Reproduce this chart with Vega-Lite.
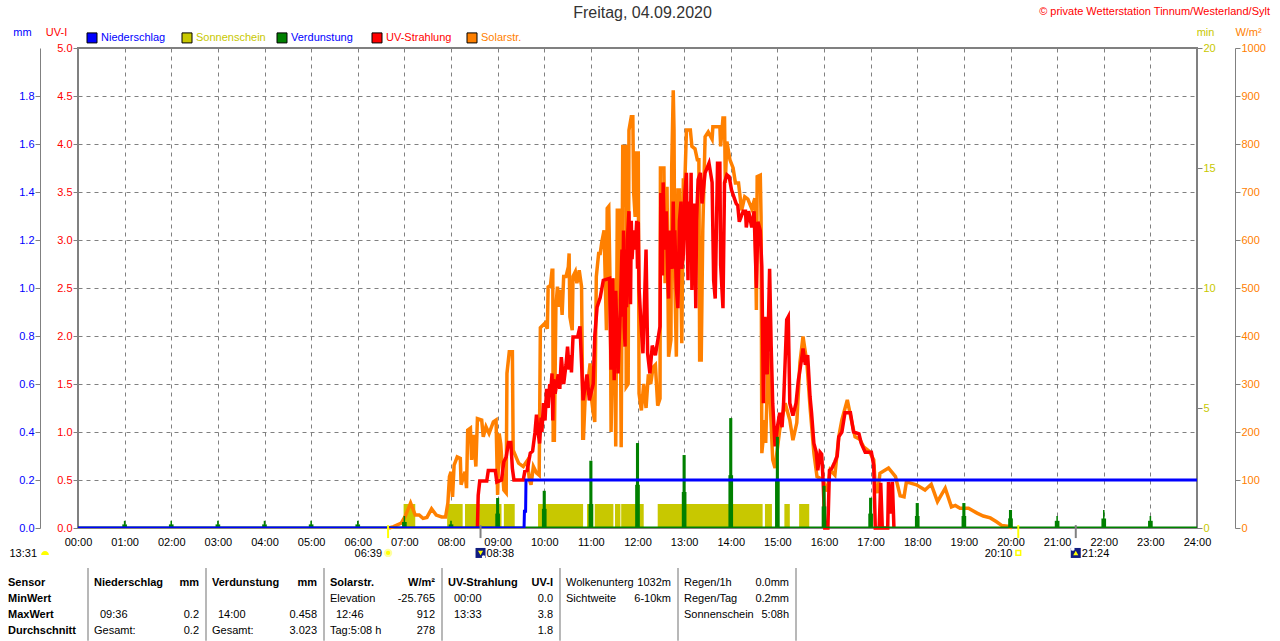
{
  "$schema": "https://vega.github.io/schema/vega-lite/v6.json",
  "width": 1119,
  "height": 480,
  "autosize": {"type": "none"},
  "padding": {"left": 78, "top": 48, "right": 83, "bottom": 113},
  "background": "white",
  "title": {"text": "Freitag, 04.09.2020", "anchor": "middle", "dx": 5, "dy": 15, "offset": 0, "font": "Liberation Sans", "fontSize": 16, "fontWeight": "normal", "color": "#333"},
  "config": {
    "font": "Liberation Sans",
    "view": {"stroke": "#808080", "strokeWidth": 2},
    "text": {"fontSize": 11},
    "axis": {"labelFontSize": 11, "titleFontSize": 11, "titleFontWeight": "normal", "domainColor": "#808080", "tickColor": "#808080", "gridColor": "#808080", "gridDash": [4, 4], "gridOpacity": 1, "titleAngle": 0, "titleAlign": "center", "titleBaseline": "middle", "titleY": -16, "labelFlush": false, "labelOverlap": false}
  },
  "datasets": {
    "sun": [
      {"t0":419,"t1":434},{"t0":475,"t1":495},{"t0":498,"t1":545},{"t0":548,"t1":562},{"t0":592,"t1":650},{"t0":655,"t1":663},{"t0":665,"t1":689},{"t0":691,"t1":698},{"t0":699,"t1":728},{"t0":746,"t1":881},{"t0":884,"t1":893},{"t0":909,"t1":916},{"t0":928,"t1":941}
    ],
    "evap": [
      {"t0":0,"t1":1440,"v":0.006},
      {"t0":59,"t1":61,"v":0.03},{"t0":57,"t1":63,"v":0.015},{"t0":119,"t1":121,"v":0.03},{"t0":117,"t1":123,"v":0.015},{"t0":179,"t1":181,"v":0.03},{"t0":177,"t1":183,"v":0.015},{"t0":239,"t1":241,"v":0.03},{"t0":237,"t1":243,"v":0.015},{"t0":299,"t1":301,"v":0.03},{"t0":297,"t1":303,"v":0.015},{"t0":359,"t1":361,"v":0.03},{"t0":357,"t1":363,"v":0.015},
      {"t0":419,"t1":421,"v":0.05},{"t0":417,"t1":423,"v":0.025},{"t0":479,"t1":481,"v":0.03},{"t0":477,"t1":483,"v":0.015},
      {"t0":538,"t1":542,"v":0.125},{"t0":537,"t1":543,"v":0.06},{"t0":598,"t1":602,"v":0.155},{"t0":597,"t1":603,"v":0.08},{"t0":658,"t1":662,"v":0.28},{"t0":657,"t1":663,"v":0.1},{"t0":718,"t1":722,"v":0.354},{"t0":717,"t1":723,"v":0.18},{"t0":778,"t1":782,"v":0.304},{"t0":777,"t1":783,"v":0.15},{"t0":838,"t1":842,"v":0.458},{"t0":837,"t1":843,"v":0.22},{"t0":898,"t1":902,"v":0.38},{"t0":897,"t1":903,"v":0.2},{"t0":958,"t1":962,"v":0.176},{"t0":957,"t1":963,"v":0.09},{"t0":1018,"t1":1022,"v":0.126},{"t0":1017,"t1":1023,"v":0.06},{"t0":1078,"t1":1082,"v":0.104},{"t0":1077,"t1":1083,"v":0.05},{"t0":1138,"t1":1142,"v":0.104},{"t0":1137,"t1":1143,"v":0.05},{"t0":1198,"t1":1202,"v":0.075},{"t0":1197,"t1":1203,"v":0.04},{"t0":1259,"t1":1261,"v":0.05},{"t0":1257,"t1":1263,"v":0.03},{"t0":1319,"t1":1321,"v":0.075},{"t0":1317,"t1":1323,"v":0.04},{"t0":1379,"t1":1381,"v":0.05},{"t0":1377,"t1":1383,"v":0.03}
    ],
    "rain": [{"t":0,"mm":0},{"t":574,"mm":0},{"t":574.5,"mm":0.07},{"t":576,"mm":0.07},{"t":576.5,"mm":0.2},{"t":1440,"mm":0.2}],
    "solar": [
      {"t":400,"w":0},{"t":406,"w":3},{"t":416,"w":10},{"t":421,"w":24},{"t":428,"w":52},{"t":434,"w":27},{"t":439,"w":27},{"t":444,"w":20},{"t":449,"w":22},{"t":455,"w":40},{"t":461,"w":27},{"t":468,"w":23},{"t":473,"w":23},{"t":476,"w":52},{"t":478,"w":107},{"t":480,"w":117},{"t":482,"w":65},{"t":484,"w":131},{"t":488,"w":148},{"t":492,"w":145},{"t":493,"w":90},{"t":498,"w":117},{"t":500,"w":83},{"t":501.5,"w":204},{"t":505,"w":208},{"t":506.5,"w":142},{"t":509,"w":194},{"t":512,"w":128},{"t":514,"w":228},{"t":519.5,"w":225},{"t":521.5,"w":190},{"t":525,"w":211},{"t":529,"w":197},{"t":534.5,"w":221},{"t":538,"w":225},{"t":540,"w":69},{"t":542,"w":197},{"t":544,"w":175},{"t":548,"w":79},{"t":551,"w":73},{"t":552,"w":322},{"t":555,"w":367},{"t":559,"w":367},{"t":560,"w":162},{"t":567,"w":135},{"t":573,"w":128},{"t":578,"w":140},{"t":581,"w":100},{"t":583,"w":90},{"t":586,"w":128},{"t":590,"w":115},{"t":593.5,"w":110},{"t":595,"w":417},{"t":601,"w":427},{"t":604,"w":415},{"t":605,"w":502},{"t":608,"w":505},{"t":610,"w":537},{"t":611,"w":537},{"t":611.5,"w":183},{"t":613,"w":183},{"t":615,"w":461},{"t":617,"w":503},{"t":619,"w":461},{"t":621,"w":496},{"t":623,"w":444},{"t":625,"w":524},{"t":628,"w":524},{"t":631,"w":544},{"t":632,"w":572},{"t":633,"w":440},{"t":636,"w":412},{"t":637,"w":524},{"t":640,"w":534},{"t":642,"w":510},{"t":645,"w":537},{"t":648,"w":503},{"t":649,"w":336},{"t":649.5,"w":187},{"t":650.5,"w":187},{"t":653,"w":287},{"t":656,"w":300},{"t":659,"w":343},{"t":661,"w":267},{"t":663,"w":240},{"t":665,"w":221},{"t":667,"w":524},{"t":670,"w":572},{"t":672,"w":572},{"t":674,"w":595},{"t":677,"w":620},{"t":680,"w":412},{"t":681,"w":666},{"t":683,"w":670},{"t":685,"w":480},{"t":686,"w":200},{"t":688,"w":380},{"t":690,"w":520},{"t":692,"w":170},{"t":694,"w":662},{"t":697,"w":662},{"t":699,"w":168},{"t":701,"w":795},{"t":705,"w":795},{"t":705.5,"w":294},{"t":708,"w":300},{"t":709,"w":829},{"t":712,"w":857},{"t":714,"w":857},{"t":715,"w":700},{"t":717,"w":648},{"t":718,"w":781},{"t":721,"w":781},{"t":722,"w":280},{"t":725,"w":245},{"t":728,"w":300},{"t":731,"w":250},{"t":734,"w":320},{"t":737,"w":300},{"t":740,"w":335},{"t":743,"w":340},{"t":746,"w":255},{"t":749,"w":270},{"t":749.5,"w":750},{"t":754,"w":750},{"t":755.5,"w":510},{"t":758,"w":711},{"t":760,"w":357},{"t":763,"w":392},{"t":764,"w":750},{"t":766,"w":912},{"t":767,"w":829},{"t":768,"w":517},{"t":770,"w":357},{"t":772,"w":704},{"t":774,"w":704},{"t":777,"w":385},{"t":779,"w":725},{"t":781,"w":725},{"t":783,"w":829},{"t":788,"w":829},{"t":790,"w":795},{"t":794,"w":790},{"t":797,"w":767},{"t":799,"w":767},{"t":800,"w":350},{"t":802,"w":350},{"t":804,"w":620},{"t":807,"w":815},{"t":811,"w":825},{"t":816,"w":810},{"t":817,"w":836},{"t":826,"w":836},{"t":827,"w":795},{"t":830,"w":854},{"t":832,"w":854},{"t":833,"w":719},{"t":835,"w":805},{"t":839,"w":767},{"t":843,"w":750},{"t":846,"w":719},{"t":850,"w":719},{"t":854,"w":662},{"t":858,"w":690},{"t":862,"w":685},{"t":867,"w":665},{"t":871,"w":687},{"t":873,"w":454},{"t":874,"w":732},{"t":878,"w":735},{"t":879,"w":648},{"t":880,"w":156},{"t":884,"w":225},{"t":885,"w":177},{"t":888,"w":364},{"t":894,"w":142},{"t":897,"w":125},{"t":903,"w":204},{"t":910,"w":260},{"t":916,"w":225},{"t":920,"w":183},{"t":925,"w":219},{"t":929,"w":344},{"t":933,"w":399},{"t":938,"w":344},{"t":942,"w":253},{"t":947,"w":156},{"t":951,"w":107},{"t":959,"w":100},{"t":964,"w":76},{"t":968,"w":121},{"t":974,"w":110},{"t":979,"w":190},{"t":983,"w":225},{"t":990,"w":267},{"t":996,"w":219},{"t":1000,"w":190},{"t":1006,"w":185},{"t":1011,"w":169},{"t":1018,"w":160},{"t":1024,"w":142},{"t":1026,"w":86},{"t":1029,"w":73},{"t":1032,"w":114},{"t":1043,"w":125},{"t":1052,"w":107},{"t":1058,"w":67},{"t":1063,"w":65},{"t":1066,"w":96},{"t":1079,"w":90},{"t":1090,"w":79},{"t":1098,"w":91},{"t":1106,"w":55},{"t":1116,"w":83},{"t":1124,"w":44},{"t":1129,"w":47},{"t":1135,"w":41},{"t":1146,"w":41},{"t":1157,"w":31},{"t":1165,"w":25},{"t":1174,"w":21},{"t":1182,"w":13},{"t":1189,"w":5},{"t":1198,"w":3},{"t":1202,"w":0}
    ],
    "uv": [
      {"t":514,"i":0},{"t":515,"i":0.34},{"t":517,"i":0.49},{"t":526,"i":0.49},{"t":528,"i":0.6},{"t":537,"i":0.6},{"t":539,"i":0.48},{"t":545,"i":0.5},{"t":548,"i":0.69},{"t":551,"i":0.74},{"t":554,"i":0.89},{"t":557,"i":0.89},{"t":559,"i":0.62},{"t":561,"i":0.5},{"t":573,"i":0.5},{"t":575,"i":0.59},{"t":578,"i":0.6},{"t":582,"i":0.78},{"t":585,"i":0.8},{"t":588,"i":0.99},{"t":590,"i":1.18},{"t":592,"i":1.0},{"t":594,"i":0.88},{"t":596,"i":1.15},{"t":597,"i":1.0},{"t":599,"i":1.3},{"t":601,"i":1.12},{"t":603,"i":1.45},{"t":605,"i":1.25},{"t":607,"i":1.5},{"t":608,"i":1.38},{"t":610,"i":1.61},{"t":611,"i":1.12},{"t":612,"i":1.55},{"t":614,"i":1.4},{"t":618,"i":1.6},{"t":620,"i":1.45},{"t":622,"i":1.78},{"t":625,"i":1.5},{"t":628,"i":1.7},{"t":630,"i":1.89},{"t":632,"i":1.65},{"t":634,"i":1.8},{"t":635,"i":1.62},{"t":637,"i":1.99},{"t":643,"i":1.99},{"t":646,"i":2.1},{"t":648,"i":1.72},{"t":650,"i":1.33},{"t":655,"i":1.6},{"t":658,"i":1.33},{"t":663,"i":1.5},{"t":665,"i":2.0},{"t":668,"i":2.3},{"t":672,"i":2.4},{"t":676,"i":2.58},{"t":684,"i":2.6},{"t":686,"i":1.65},{"t":688,"i":2.6},{"t":690,"i":1.54},{"t":692,"i":2.47},{"t":695,"i":1.61},{"t":698,"i":2.3},{"t":700,"i":2.9},{"t":701,"i":2.2},{"t":702,"i":3.1},{"t":703,"i":2.1},{"t":704,"i":1.89},{"t":705,"i":2.9},{"t":706,"i":2.3},{"t":707,"i":3.0},{"t":709,"i":3.3},{"t":710,"i":2.6},{"t":711,"i":2.33},{"t":712,"i":3.2},{"t":713,"i":2.8},{"t":715,"i":3.1},{"t":717,"i":2.9},{"t":719,"i":3.2},{"t":720,"i":2.7},{"t":721,"i":3.19},{"t":722,"i":2.5},{"t":724,"i":2.2},{"t":727,"i":1.82},{"t":731,"i":2.9},{"t":733,"i":1.82},{"t":736,"i":1.61},{"t":739,"i":1.9},{"t":743,"i":1.8},{"t":749,"i":2.1},{"t":750,"i":3.49},{"t":752,"i":2.63},{"t":753,"i":3.6},{"t":755,"i":2.9},{"t":757,"i":3.3},{"t":759,"i":2.6},{"t":760,"i":2.39},{"t":761,"i":3.1},{"t":763,"i":2.7},{"t":765,"i":2.9},{"t":766,"i":3.4},{"t":767,"i":2.7},{"t":768,"i":3.1},{"t":770,"i":2.5},{"t":772,"i":2.29},{"t":774,"i":3.2},{"t":776,"i":3.4},{"t":777,"i":2.7},{"t":779,"i":2.85},{"t":781,"i":3.5},{"t":783,"i":3.7},{"t":784,"i":3.0},{"t":785,"i":2.58},{"t":786,"i":3.4},{"t":788,"i":3.0},{"t":789,"i":3.7},{"t":790,"i":2.48},{"t":791,"i":3.3},{"t":793,"i":3.38},{"t":794,"i":2.9},{"t":795,"i":2.29},{"t":796,"i":3.2},{"t":798,"i":3.63},{"t":801,"i":3.7},{"t":803,"i":3.38},{"t":807,"i":3.7},{"t":812,"i":3.8},{"t":816,"i":3.6},{"t":818,"i":2.58},{"t":820,"i":2.39},{"t":823,"i":3.8},{"t":826,"i":3.8},{"t":827,"i":2.74},{"t":830,"i":2.29},{"t":832,"i":3.6},{"t":835,"i":3.68},{"t":838,"i":3.66},{"t":841,"i":3.52},{"t":847,"i":3.38},{"t":849,"i":3.36},{"t":851,"i":3.19},{"t":856,"i":3.3},{"t":859,"i":3.3},{"t":860,"i":3.13},{"t":863,"i":3.3},{"t":867,"i":3.13},{"t":870,"i":3.3},{"t":873,"i":2.5},{"t":875,"i":3.19},{"t":878,"i":3.1},{"t":880,"i":2.72},{"t":882,"i":1.3},{"t":884,"i":2.2},{"t":887,"i":1.6},{"t":890,"i":2.7},{"t":892,"i":1.9},{"t":894,"i":1.3},{"t":897,"i":0.85},{"t":900,"i":1.05},{"t":903,"i":1.2},{"t":906,"i":1.05},{"t":908,"i":1.3},{"t":912,"i":2.17},{"t":914,"i":2.2},{"t":916,"i":1.3},{"t":920,"i":1.17},{"t":924,"i":1.3},{"t":927,"i":1.54},{"t":931,"i":1.75},{"t":933,"i":1.87},{"t":936,"i":1.7},{"t":939,"i":1.8},{"t":942,"i":1.37},{"t":944,"i":1.2},{"t":947,"i":0.88},{"t":950,"i":0.79},{"t":952,"i":0.6},{"t":955,"i":0.79},{"t":957,"i":0.77},{"t":959,"i":0.47},{"t":961,"i":0},{"t":965,"i":0},{"t":967,"i":0.6},{"t":970,"i":0.62},{"t":974,"i":0.69},{"t":977,"i":0.75},{"t":979,"i":0.95},{"t":983,"i":1.0},{"t":987,"i":1.2},{"t":994,"i":1.2},{"t":998,"i":1.0},{"t":1005,"i":0.98},{"t":1008,"i":0.88},{"t":1013,"i":0.79},{"t":1021,"i":0.79},{"t":1024,"i":0.65},{"t":1026,"i":0},{"t":1031,"i":0},{"t":1033,"i":0.47},{"t":1035,"i":0},{"t":1042,"i":0},{"t":1043,"i":0.48},{"t":1045,"i":0.15},{"t":1048,"i":0.48},{"t":1050,"i":0}
    ],
    "marker": [
      {"t":399,"label":"06:39","kind":"sunrise"},
      {"t":518,"label":"08:38","kind":"moonset"},
      {"t":1210,"label":"20:10","kind":"sunset"},
      {"t":1284,"label":"21:24","kind":"moonrise"}
    ],
    "legend": [
      {"name":"Niederschlag"},{"name":"Sonnenschein"},{"name":"Verdunstung"},{"name":"UV-Strahlung"},{"name":"Solarstr."}
    ],
    "notes": [
      {"slot":"daylen","label":"13:31"},
      {"slot":"credit","label":"© private Wetterstation Tinnum/Westerland/Sylt"}
    ],
    "sep": [{"sec":1},{"sec":2},{"sec":3},{"sec":4},{"sec":5},{"sec":6},{"sec":7}],
    "table": [
      {"sec":0,"row":"head","side":"l","bold":true,"text":"Sensor"},
      {"sec":0,"row":"min","side":"l","bold":true,"text":"MinWert"},
      {"sec":0,"row":"max","side":"l","bold":true,"text":"MaxWert"},
      {"sec":0,"row":"avg","side":"l","bold":true,"text":"Durchschnitt"},
      {"sec":1,"row":"head","side":"l","bold":true,"text":"Niederschlag"},
      {"sec":1,"row":"head","side":"r","bold":true,"text":"mm"},
      {"sec":1,"row":"max","side":"time","bold":false,"text":"09:36"},
      {"sec":1,"row":"max","side":"r","bold":false,"text":"0.2"},
      {"sec":1,"row":"avg","side":"l","bold":false,"text":"Gesamt:"},
      {"sec":1,"row":"avg","side":"r","bold":false,"text":"0.2"},
      {"sec":2,"row":"head","side":"l","bold":true,"text":"Verdunstung"},
      {"sec":2,"row":"head","side":"r","bold":true,"text":"mm"},
      {"sec":2,"row":"max","side":"time","bold":false,"text":"14:00"},
      {"sec":2,"row":"max","side":"r","bold":false,"text":"0.458"},
      {"sec":2,"row":"avg","side":"l","bold":false,"text":"Gesamt:"},
      {"sec":2,"row":"avg","side":"r","bold":false,"text":"3.023"},
      {"sec":3,"row":"head","side":"l","bold":true,"text":"Solarstr."},
      {"sec":3,"row":"head","side":"r","bold":true,"text":"W/m²"},
      {"sec":3,"row":"min","side":"l","bold":false,"text":"Elevation"},
      {"sec":3,"row":"min","side":"r","bold":false,"text":"-25.765"},
      {"sec":3,"row":"max","side":"time","bold":false,"text":"12:46"},
      {"sec":3,"row":"max","side":"r","bold":false,"text":"912"},
      {"sec":3,"row":"avg","side":"l","bold":false,"text":"Tag:5:08 h"},
      {"sec":3,"row":"avg","side":"r","bold":false,"text":"278"},
      {"sec":4,"row":"head","side":"l","bold":true,"text":"UV-Strahlung"},
      {"sec":4,"row":"head","side":"r","bold":true,"text":"UV-I"},
      {"sec":4,"row":"min","side":"time","bold":false,"text":"00:00"},
      {"sec":4,"row":"min","side":"r","bold":false,"text":"0.0"},
      {"sec":4,"row":"max","side":"time","bold":false,"text":"13:33"},
      {"sec":4,"row":"max","side":"r","bold":false,"text":"3.8"},
      {"sec":4,"row":"avg","side":"r","bold":false,"text":"1.8"},
      {"sec":5,"row":"head","side":"l","bold":false,"text":"Wolkenunterg"},
      {"sec":5,"row":"head","side":"r","bold":false,"text":"1032m"},
      {"sec":5,"row":"min","side":"l","bold":false,"text":"Sichtweite"},
      {"sec":5,"row":"min","side":"r","bold":false,"text":"6-10km"},
      {"sec":6,"row":"head","side":"l","bold":false,"text":"Regen/1h"},
      {"sec":6,"row":"head","side":"r","bold":false,"text":"0.0mm"},
      {"sec":6,"row":"min","side":"l","bold":false,"text":"Regen/Tag"},
      {"sec":6,"row":"min","side":"r","bold":false,"text":"0.2mm"},
      {"sec":6,"row":"max","side":"l","bold":false,"text":"Sonnenschein"},
      {"sec":6,"row":"max","side":"r","bold":false,"text":"5:08h"}
    ]
  },
  "resolve": {"scale": {"x": "independent", "y": "independent", "color": "independent", "shape": "independent"}},
  "layer": [
    {
      "data": {"name": "sun"},
      "mark": {"type": "rect", "color": "#C8C800"},
      "encoding": {
        "x": {"field": "t0", "type": "quantitative", "title": null, "scale": {"domain": [0, 1440]},
          "axis": {"values": [0,60,120,180,240,300,360,420,480,540,600,660,720,780,840,900,960,1020,1080,1140,1200,1260,1320,1380,1440], "grid": true, "ticks": false, "domain": false, "labelPadding": 8, "labelColor": "#000", "labelExpr": "(floor(datum.value / 60) < 10 ? '0' : '') + floor(datum.value / 60) + ':00'"}},
        "x2": {"field": "t1"},
        "y": {"datum": 1, "type": "quantitative", "scale": {"domain": [0, 20]},
          "axis": {"orient": "right", "values": [0,5,10,15,20], "title": "min", "titleColor": "#C8C800", "titleX": 8, "domain": false, "tickSize": 5, "labelPadding": 1, "labelColor": "#C8C800", "grid": false}},
        "y2": {"datum": 0}
      }
    },
    {
      "data": {"name": "solar"},
      "mark": {"type": "line", "color": "#FF8000", "strokeWidth": 3.5},
      "encoding": {
        "x": {"field": "t", "type": "quantitative", "scale": {"domain": [0, 1440]}, "axis": null},
        "y": {"field": "w", "type": "quantitative", "scale": {"domain": [0, 1000]},
          "axis": {"orient": "right", "offset": 38, "values": [0,100,200,300,400,500,600,700,800,900,1000], "format": "d", "title": "W/m²", "titleColor": "#FF8000", "titleX": 13, "tickSize": 5, "labelPadding": 1, "labelColor": "#FF8000", "grid": false}}
      }
    },
    {
      "data": {"name": "uv"},
      "mark": {"type": "line", "color": "#FF0000", "strokeWidth": 3.5},
      "encoding": {
        "x": {"field": "t", "type": "quantitative", "scale": {"domain": [0, 1440]}, "axis": null},
        "y": {"field": "i", "type": "quantitative", "scale": {"domain": [0, 5]},
          "axis": {"orient": "left", "values": [0,0.5,1,1.5,2,2.5,3,3.5,4,4.5,5], "format": ".1f", "title": "UV-I", "titleColor": "#FF0000", "titleX": -22, "domain": false, "tickSize": 5, "labelPadding": 1, "labelColor": "#FF0000", "grid": true}}
      }
    },
    {
      "data": {"name": "evap"},
      "mark": {"type": "rect", "color": "#008000"},
      "encoding": {
        "x": {"field": "t0", "type": "quantitative", "scale": {"domain": [0, 1440]}, "axis": null},
        "x2": {"field": "t1"},
        "y": {"field": "v", "type": "quantitative", "scale": {"domain": [0, 2]}, "axis": null},
        "y2": {"datum": 0}
      }
    },
    {
      "data": {"name": "rain"},
      "mark": {"type": "line", "color": "#0000FF", "strokeWidth": 3, "clip": true},
      "encoding": {
        "x": {"field": "t", "type": "quantitative", "scale": {"domain": [0, 1440]}, "axis": null},
        "y": {"field": "mm", "type": "quantitative", "scale": {"domain": [0, 2]},
          "axis": {"orient": "left", "offset": 38, "values": [0,0.2,0.4,0.6,0.8,1,1.2,1.4,1.6,1.8], "format": ".1f", "title": "mm", "titleColor": "#0000FF", "titleX": -18, "tickSize": 5, "labelPadding": 1, "labelColor": "#0000FF", "grid": false}}
      }
    },
    {
      "data": {"name": "marker"},
      "mark": {"type": "rule", "strokeWidth": 2},
      "encoding": {
        "x": {"field": "t", "type": "quantitative", "scale": {"domain": [0, 1440]}, "axis": null},
        "y": {"datum": 0.012, "type": "quantitative", "scale": {"domain": [0, 2]}, "axis": null},
        "y2": {"datum": -0.042},
        "color": {"field": "kind", "type": "nominal", "legend": null, "scale": {"domain": ["sunrise", "moonset", "sunset", "moonrise"], "range": ["#FFFF00", "#808080", "#FFFF00", "#808080"]}}
      }
    },
    {
      "data": {"name": "marker"},
      "transform": [{"filter": "datum.kind == 'sunrise' || datum.kind == 'sunset'"}],
      "mark": {"type": "text", "align": "right", "baseline": "middle", "dx": -6, "color": "#000"},
      "encoding": {
        "x": {"field": "t", "type": "quantitative", "scale": {"domain": [0, 1440]}, "axis": null},
        "y": {"datum": -0.108, "type": "quantitative", "scale": {"domain": [0, 2]}, "axis": null},
        "text": {"field": "label"}
      }
    },
    {
      "data": {"name": "marker"},
      "transform": [{"filter": "datum.kind == 'moonset' || datum.kind == 'moonrise'"}],
      "mark": {"type": "text", "align": "left", "baseline": "middle", "dx": 6, "color": "#000"},
      "encoding": {
        "x": {"field": "t", "type": "quantitative", "scale": {"domain": [0, 1440]}, "axis": null},
        "y": {"datum": -0.108, "type": "quantitative", "scale": {"domain": [0, 2]}, "axis": null},
        "text": {"field": "label"}
      }
    },
    {
      "data": {"name": "marker"},
      "transform": [{"filter": "datum.kind == 'moonset' || datum.kind == 'moonrise'"}],
      "mark": {"type": "point", "shape": "square", "filled": true, "size": 100, "color": "#101C80", "opacity": 1},
      "encoding": {
        "x": {"field": "t", "type": "quantitative", "scale": {"domain": [0, 1440]}, "axis": null},
        "y": {"datum": -0.104, "type": "quantitative", "scale": {"domain": [0, 2]}, "axis": null}
      }
    },
    {
      "data": {"name": "marker"},
      "transform": [{"filter": "datum.kind == 'moonset' || datum.kind == 'moonrise'"}],
      "mark": {"type": "point", "filled": true, "size": 26, "color": "#FFFF00", "opacity": 1},
      "encoding": {
        "x": {"field": "t", "type": "quantitative", "scale": {"domain": [0, 1440]}, "axis": null},
        "y": {"datum": -0.104, "type": "quantitative", "scale": {"domain": [0, 2]}, "axis": null},
        "shape": {"field": "kind", "type": "nominal", "legend": null, "scale": {"domain": ["moonset", "moonrise"], "range": ["triangle-down", "triangle-up"]}}
      }
    },
    {
      "data": {"name": "marker"},
      "transform": [{"filter": "datum.kind == 'moonset'"}],
      "mark": {"type": "point", "filled": true, "size": 12, "color": "#FFFFFF", "opacity": 1, "xOffset": 3, "yOffset": 4},
      "encoding": {
        "x": {"field": "t", "type": "quantitative", "scale": {"domain": [0, 1440]}, "axis": null},
        "y": {"datum": -0.104, "type": "quantitative", "scale": {"domain": [0, 2]}, "axis": null}
      }
    },
    {
      "data": {"name": "marker"},
      "transform": [{"filter": "datum.kind == 'moonrise'"}],
      "mark": {"type": "point", "filled": true, "size": 14, "color": "#FFFFFF", "opacity": 1, "xOffset": -3, "yOffset": -4},
      "encoding": {
        "x": {"field": "t", "type": "quantitative", "scale": {"domain": [0, 1440]}, "axis": null},
        "y": {"datum": -0.104, "type": "quantitative", "scale": {"domain": [0, 2]}, "axis": null}
      }
    },
    {
      "data": {"name": "marker"},
      "transform": [{"filter": "datum.kind == 'sunrise'"}],
      "mark": {"type": "point", "filled": true, "size": 40, "color": "#FFFF00", "stroke": "#FFFFA0", "strokeWidth": 2, "opacity": 1},
      "encoding": {
        "x": {"field": "t", "type": "quantitative", "scale": {"domain": [0, 1440]}, "axis": null},
        "y": {"datum": -0.104, "type": "quantitative", "scale": {"domain": [0, 2]}, "axis": null}
      }
    },
    {
      "data": {"name": "marker"},
      "transform": [{"filter": "datum.kind == 'sunset'"}],
      "mark": {"type": "point", "shape": "square", "filled": false, "size": 22, "color": "#FFFF00", "strokeWidth": 1.5, "opacity": 1},
      "encoding": {
        "x": {"field": "t", "type": "quantitative", "scale": {"domain": [0, 1440]}, "axis": null},
        "y": {"datum": -0.104, "type": "quantitative", "scale": {"domain": [0, 2]}, "axis": null}
      }
    },
    {
      "data": {"name": "legend"},
      "mark": {"type": "point", "shape": "square", "filled": true, "size": 100, "stroke": "#000", "strokeWidth": 1, "opacity": 1},
      "encoding": {
        "x": {"field": "name", "type": "nominal", "sort": null, "axis": null, "scale": {"type": "point", "padding": 0, "domain": ["Niederschlag", "Sonnenschein", "Verdunstung", "UV-Strahlung", "Solarstr."], "range": [14, 394]}},
        "y": {"datum": 2.042, "type": "quantitative", "scale": {"domain": [0, 2]}, "axis": null},
        "fill": {"field": "name", "type": "nominal", "legend": null, "scale": {"domain": ["Niederschlag", "Sonnenschein", "Verdunstung", "UV-Strahlung", "Solarstr."], "range": ["#0000FF", "#C8C800", "#008000", "#FF0000", "#FF8000"]}}
      }
    },
    {
      "data": {"name": "legend"},
      "mark": {"type": "text", "align": "left", "baseline": "middle", "dx": 9},
      "encoding": {
        "x": {"field": "name", "type": "nominal", "sort": null, "axis": null, "scale": {"type": "point", "padding": 0, "domain": ["Niederschlag", "Sonnenschein", "Verdunstung", "UV-Strahlung", "Solarstr."], "range": [14, 394]}},
        "y": {"datum": 2.042, "type": "quantitative", "scale": {"domain": [0, 2]}, "axis": null},
        "text": {"field": "name"},
        "color": {"field": "name", "type": "nominal", "legend": null, "scale": {"domain": ["Niederschlag", "Sonnenschein", "Verdunstung", "UV-Strahlung", "Solarstr."], "range": ["#0000FF", "#C8C800", "#0000FF", "#FF0000", "#FF8000"]}}
      }
    },
    {
      "data": {"name": "notes"},
      "transform": [{"filter": "datum.slot == 'credit'"}],
      "mark": {"type": "text", "align": "right", "baseline": "middle", "color": "#FF0000"},
      "encoding": {
        "x": {"field": "slot", "type": "nominal", "axis": null, "scale": {"type": "point", "padding": 0, "domain": ["daylen", "credit"], "range": [-41, 1192]}},
        "y": {"datum": 2.15, "type": "quantitative", "scale": {"domain": [0, 2]}, "axis": null},
        "text": {"field": "label"}
      }
    },
    {
      "data": {"name": "notes"},
      "transform": [{"filter": "datum.slot == 'daylen'"}],
      "mark": {"type": "text", "align": "right", "baseline": "middle", "color": "#000"},
      "encoding": {
        "x": {"field": "slot", "type": "nominal", "axis": null, "scale": {"type": "point", "padding": 0, "domain": ["daylen", "credit"], "range": [-41, 1192]}},
        "y": {"datum": -0.108, "type": "quantitative", "scale": {"domain": [0, 2]}, "axis": null},
        "text": {"field": "label"}
      }
    },
    {
      "data": {"name": "notes"},
      "transform": [{"filter": "datum.slot == 'daylen'"}],
      "mark": {"type": "point", "shape": "M-1,0.5 A1,1 0 0 1 1,0.5 Z", "filled": true, "size": 60, "color": "#FFFF00", "opacity": 1, "xOffset": 8},
      "encoding": {
        "x": {"field": "slot", "type": "nominal", "axis": null, "scale": {"type": "point", "padding": 0, "domain": ["daylen", "credit"], "range": [-41, 1192]}},
        "y": {"datum": -0.104, "type": "quantitative", "scale": {"domain": [0, 2]}, "axis": null}
      }
    },
    {
      "data": {"name": "sep"},
      "mark": {"type": "rule", "color": "#A0A0A0", "strokeWidth": 1.5},
      "encoding": {
        "x": {"field": "sec", "type": "quantitative", "axis": null, "scale": {"domain": [0, 7], "range": [-108, 718]}},
        "y": {"datum": -0.167, "type": "quantitative", "scale": {"domain": [0, 2]}, "axis": null},
        "y2": {"datum": -0.47}
      }
    },
    {
      "data": {"name": "table"},
      "transform": [{"filter": "datum.sec == 0"}],
      "mark": {"type": "text", "align": "left", "baseline": "middle", "dx": 38, "fontWeight": "bold", "color": "#000"},
      "encoding": {
        "x": {"field": "sec", "type": "quantitative", "axis": null, "scale": {"domain": [0, 7], "range": [-108, 718]}},
        "y": {"field": "row", "type": "nominal", "axis": null, "scale": {"type": "point", "padding": 0, "domain": ["head", "min", "max", "avg"], "range": [535, 583]}},
        "text": {"field": "text"}
      }
    },
    {
      "data": {"name": "table"},
      "transform": [{"filter": "datum.sec > 0 && datum.side == 'l' && datum.bold"}],
      "mark": {"type": "text", "align": "left", "baseline": "middle", "dx": 6, "fontWeight": "bold", "color": "#000"},
      "encoding": {
        "x": {"field": "sec", "type": "quantitative", "axis": null, "scale": {"domain": [0, 7], "range": [-108, 718]}},
        "y": {"field": "row", "type": "nominal", "axis": null, "scale": {"type": "point", "padding": 0, "domain": ["head", "min", "max", "avg"], "range": [535, 583]}},
        "text": {"field": "text"}
      }
    },
    {
      "data": {"name": "table"},
      "transform": [{"filter": "datum.sec > 0 && datum.side == 'r' && datum.bold"}],
      "mark": {"type": "text", "align": "right", "baseline": "middle", "dx": 111, "fontWeight": "bold", "color": "#000"},
      "encoding": {
        "x": {"field": "sec", "type": "quantitative", "axis": null, "scale": {"domain": [0, 7], "range": [-108, 718]}},
        "y": {"field": "row", "type": "nominal", "axis": null, "scale": {"type": "point", "padding": 0, "domain": ["head", "min", "max", "avg"], "range": [535, 583]}},
        "text": {"field": "text"}
      }
    },
    {
      "data": {"name": "table"},
      "transform": [{"filter": "datum.side == 'l' && !datum.bold"}],
      "mark": {"type": "text", "align": "left", "baseline": "middle", "dx": 6, "color": "#000"},
      "encoding": {
        "x": {"field": "sec", "type": "quantitative", "axis": null, "scale": {"domain": [0, 7], "range": [-108, 718]}},
        "y": {"field": "row", "type": "nominal", "axis": null, "scale": {"type": "point", "padding": 0, "domain": ["head", "min", "max", "avg"], "range": [535, 583]}},
        "text": {"field": "text"}
      }
    },
    {
      "data": {"name": "table"},
      "transform": [{"filter": "datum.side == 'time'"}],
      "mark": {"type": "text", "align": "left", "baseline": "middle", "dx": 12, "color": "#000"},
      "encoding": {
        "x": {"field": "sec", "type": "quantitative", "axis": null, "scale": {"domain": [0, 7], "range": [-108, 718]}},
        "y": {"field": "row", "type": "nominal", "axis": null, "scale": {"type": "point", "padding": 0, "domain": ["head", "min", "max", "avg"], "range": [535, 583]}},
        "text": {"field": "text"}
      }
    },
    {
      "data": {"name": "table"},
      "transform": [{"filter": "datum.side == 'r' && !datum.bold"}],
      "mark": {"type": "text", "align": "right", "baseline": "middle", "dx": 111, "color": "#000"},
      "encoding": {
        "x": {"field": "sec", "type": "quantitative", "axis": null, "scale": {"domain": [0, 7], "range": [-108, 718]}},
        "y": {"field": "row", "type": "nominal", "axis": null, "scale": {"type": "point", "padding": 0, "domain": ["head", "min", "max", "avg"], "range": [535, 583]}},
        "text": {"field": "text"}
      }
    }
  ]
}
